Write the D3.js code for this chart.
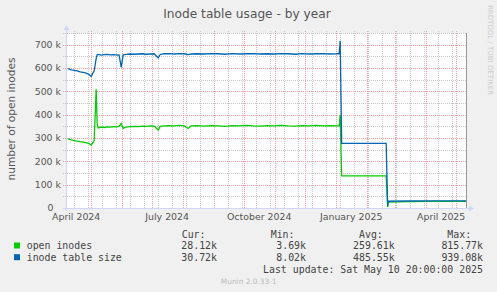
<!DOCTYPE html>
<html>
<head>
<title> Inode table usage - by year </title>
<script src="https://d3js.org/d3.v7.min.js"></script>
<style>
	body {margin:0; background:#F0F0F0;}
	text {font-family:"DejaVu Sans", sans-serif;}
	.mono {font-family:"DejaVu Sans Mono", monospace;}
</style>
</head>
<body>
<div id="mydiv"></div>
<script>
// samples (values in thousands)
var dates = ["2024-04-08","2024-04-11","2024-04-14","2024-04-17","2024-04-20","2024-04-23","2024-04-26","2024-04-29",
	"2024-05-01","2024-05-03","2024-05-04","2024-05-06","2024-05-07","2024-05-08","2024-05-11","2024-05-14","2024-05-17",
	"2024-05-20","2024-05-23","2024-05-26","2024-05-29","2024-05-31","2024-06-02","2024-06-05","2024-06-09","2024-06-13",
	"2024-06-17","2024-06-21","2024-06-25","2024-06-29","2024-07-03","2024-07-07","2024-07-09","2024-07-13","2024-07-18",
	"2024-07-23","2024-07-28","2024-08-02","2024-08-06","2024-08-09","2024-08-15","2024-08-22","2024-08-29","2024-09-05",
	"2024-09-12","2024-09-19","2024-09-26","2024-10-03","2024-10-10","2024-10-17","2024-10-24","2024-10-31","2024-11-07",
	"2024-11-14","2024-11-21","2024-11-28","2024-12-05","2024-12-12","2024-12-19","2024-12-26","2025-01-01","2025-01-04",
	"2025-01-05","2025-01-06T12:00","2025-01-20","2025-02-05","2025-02-20","2025-02-21T12:00","2025-02-22","2025-03-15",
	"2025-04-10","2025-05-10T20:00"];

var openInodes = [296,292,289,287,284,282,280,276,
	270,282,290,509,360,343,347,345,348,
	347,349,348,350,363,341,347,349,350,
	349,351,350,352,351,334,350,352,353,
	352,354,352,341,352,353,351,353,352,
	350,353,352,354,352,351,353,352,354,
	352,351,353,352,354,352,353,352,352,
	399,138,138,138,138,4,25,27,
	28,28.12];

var tableSize = [597,592,590,588,583,581,578,572,
	564,580,588,640,657,658,655,657,658,
	656,657,656,655,603,656,658,660,659,
	660,661,659,660,661,643,658,661,662,
	660,662,661,657,660,661,660,662,661,
	659,662,660,661,662,660,661,660,662,
	661,659,662,660,661,662,660,661,662,
	717,277,277,277,277,8,29,30,
	30.5,30.72];

var yTicks = [0,100,200,300,400,500,600,700];
var yTickLabels = ["0","100 k","200 k","300 k","400 k","500 k","600 k","700 k"];

var seriesNames = ["open inodes","inode table size"];
var seriesColors = ["#00CC00","#0066B3"];
var statHeads = ["Cur:","Min:","Avg:","Max:"];
var openStats = ["28.12k","3.69k","259.61k","815.77k"];
var sizeStats = ["30.72k","8.02k","485.55k","939.08k"];

var parse = function(s) { return s.length > 10 ? d3.utcParse("%Y-%m-%dT%H:%M")(s) : d3.utcParse("%Y-%m-%d")(s); };
var start = parse("2024-04-05T20:00"), end = parse("2025-05-10T20:00");

var pL = 66, pR = 466, pT = 33, pB = 208;

var x = d3.scaleUtc().domain([start, end]).range([pL, pR]);
var y = d3.scaleLinear().domain([0, 750]).range([pB, pT]);

var svg = d3.select("#mydiv").append("svg")
	.attr("width", 497)
	.attr("height", 292)
	.style("display", "block");

svg.append("rect").attr("width", 497).attr("height", 292).attr("fill", "#F0F0F0");
svg.append("rect")
	.attr("x", pL).attr("y", pT)
	.attr("width", pR - pL).attr("height", pB - pT)
	.attr("fill", "#FFFFFF");

// grid: minor every 2 weeks / 50k, major per month / 100k
var minorX = d3.utcSunday.range(parse("2024-04-14"), end, 2);
var majorX = d3.utcMonth.range(start, end);
var gridY = d3.range(50, 751, 50);

svg.selectAll(".vminor").data(minorX).enter().append("line")
	.attr("x1", function(d) { return Math.round(x(d)) + 0.5; })
	.attr("x2", function(d) { return Math.round(x(d)) + 0.5; })
	.attr("y1", 31).attr("y2", pB)
	.attr("stroke", "#C8C8C8").attr("stroke-dasharray", "1,1");

svg.selectAll(".hgrid").data(gridY).enter().append("line")
	.attr("x1", 63).attr("x2", pR)
	.attr("y1", function(d) { return Math.round(y(d)) + 0.5; })
	.attr("y2", function(d) { return Math.round(y(d)) + 0.5; })
	.attr("stroke", function(d) { return d % 100 == 0 ? "#F0A0A0" : "#C8C8C8"; })
	.attr("stroke-dasharray", "1,1");

svg.selectAll(".vmajor").data(majorX).enter().append("line")
	.attr("x1", function(d) { return Math.round(x(d)) + 0.5; })
	.attr("x2", function(d) { return Math.round(x(d)) + 0.5; })
	.attr("y1", 31).attr("y2", pB)
	.attr("stroke", "#F0A0A0").attr("stroke-dasharray", "1,1");

// right frame line
svg.append("line")
	.attr("x1", pR + 0.5).attr("x2", pR + 0.5)
	.attr("y1", pT).attr("y2", pB)
	.attr("stroke", "#999999");

// series
var line = d3.line()
	.x(function(d) { return x(d.t); })
	.y(function(d) { return y(d.v); });

[openInodes, tableSize].forEach(function(vals, k) {
	var pts = dates.map(function(s, i) { return {t: parse(s), v: vals[i]}; });
	svg.append("path")
		.datum(pts)
		.attr("d", line)
		.attr("fill", "none")
		.attr("stroke", seriesColors[k])
		.attr("stroke-width", 1.3);
});

// axes
svg.append("line").attr("x1", 63).attr("x2", 469).attr("y1", pB + 0.5).attr("y2", pB + 0.5).attr("stroke", "#CFD6F8");
svg.append("line").attr("x1", pL + 0.5).attr("x2", pL + 0.5).attr("y1", 211).attr("y2", 29).attr("stroke", "#CFD6F8");
svg.append("path").attr("d", "M469,205.5 L474,208.5 L469,211.5 Z").attr("fill", "#CFD6F8");
svg.append("path").attr("d", "M63.5,30 L66.5,25 L69.5,30 Z").attr("fill", "#CFD6F8");

// y labels
svg.selectAll(".ylab").data(yTicks).enter().append("text")
	.attr("x", function(d) { return d == 0 ? 53.5 : 61; })
	.attr("y", function(d) { return y(d) + 3.3; })
	.attr("text-anchor", "end")
	.attr("font-size", "9.4px")
	.attr("fill", "#555555")
	.text(function(d, i) { return yTickLabels[i]; });

// x labels, centred half a month after each quarter start
var quarters = d3.utcMonth.every(3).range(d3.utcMonth.offset(start, -1), end);
svg.selectAll(".xlab").data(quarters).enter().append("text")
	.attr("x", function(d) { return x(d3.utcDay.offset(d, 15)); })
	.attr("y", 219.5)
	.attr("text-anchor", "middle")
	.attr("font-size", "9.4px")
	.attr("fill", "#555555")
	.text(function(d) { return d3.utcFormat("%B %Y")(d); });

// titles
svg.append("text")
	.attr("x", 247).attr("y", 17.5)
	.attr("text-anchor", "middle")
	.attr("font-size", "12.2px")
	.attr("fill", "#555555")
	.text("Inode table usage - by year");

svg.append("text")
	.attr("transform", "translate(14.5,119) rotate(-90)")
	.attr("text-anchor", "middle")
	.attr("font-size", "10.6px")
	.attr("fill", "#555555")
	.text("number of open inodes");

svg.append("text")
	.attr("transform", "translate(487.5,50) rotate(90)")
	.attr("text-anchor", "middle")
	.attr("font-size", "7px")
	.attr("fill", "#CCCCCC")
	.text("RRDTOOL / TOBI OETIKER");

// legend
var headX = [181.7, 270.7, 359, 447.3];
var valX = [217, 306, 394.7, 483];

svg.selectAll(".head").data(statHeads).enter().append("text")
	.attr("class", "mono")
	.attr("x", function(d, i) { return headX[i]; })
	.attr("y", 237.5)
	.attr("font-size", "9.9px")
	.attr("fill", "#444444")
	.text(function(d) { return d; });

[openStats, sizeStats].forEach(function(stats, k) {
	var yy = 249 + k * 11.7;
	svg.append("rect")
		.attr("x", 14).attr("y", yy - 6.5)
		.attr("width", 6).attr("height", 6)
		.attr("fill", seriesColors[k]);
	svg.append("text")
		.attr("class", "mono")
		.attr("x", 26.7).attr("y", yy)
		.attr("font-size", "9.9px")
		.attr("fill", "#444444")
		.text(seriesNames[k]);
	svg.selectAll(".stat" + k).data(stats).enter().append("text")
		.attr("class", "mono")
		.attr("x", function(d, i) { return valX[i]; })
		.attr("y", yy)
		.attr("text-anchor", "end")
		.attr("font-size", "9.9px")
		.attr("fill", "#444444")
		.text(function(d) { return d; });
});

svg.append("text")
	.attr("class", "mono")
	.attr("x", 483).attr("y", 273)
	.attr("text-anchor", "end")
	.attr("font-size", "9.9px")
	.attr("fill", "#444444")
	.text("Last update: Sat May 10 20:00:00 2025");

svg.append("text")
	.attr("x", 248.7).attr("y", 284)
	.attr("text-anchor", "middle")
	.attr("font-size", "7.4px")
	.attr("fill", "#BBBBBB")
	.text("Munin 2.0.33-1");
</script>
</body>
</html>
